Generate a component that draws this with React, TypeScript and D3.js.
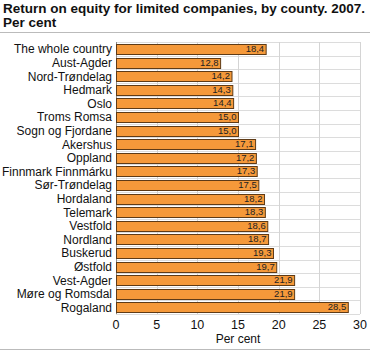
import React from 'react';
import * as d3 from 'd3';

const counties = [
  'The whole country', 'Aust-Agder', 'Nord-Trøndelag', 'Hedmark', 'Oslo',
  'Troms Romsa', 'Sogn og Fjordane', 'Akershus', 'Oppland', 'Finnmark Finnmárku',
  'Sør-Trøndelag', 'Hordaland', 'Telemark', 'Vestfold', 'Nordland',
  'Buskerud', 'Østfold', 'Vest-Agder', 'Møre og Romsdal', 'Rogaland',
];
const values = [
  18.4, 12.8, 14.2, 14.3, 14.4, 15.0, 15.0, 17.1, 17.2, 17.3,
  17.5, 18.2, 18.3, 18.6, 18.7, 19.3, 19.7, 21.9, 21.9, 28.5,
];
const xTicks = [0, 5, 10, 15, 20, 25, 30];

const W = 370;
const H = 354;
const FONT = 'Liberation Sans, Arial, sans-serif';

export default function App() {
  const left = 116;
  const right = 360;
  const top = 42;
  const bottom = 314;

  const x = d3.scaleLinear().domain([0, 30]).range([left, right]);
  const y = d3.scaleBand().domain(counties).range([top, bottom]).paddingInner(0.28).paddingOuter(0.14);
  const rowStep = (bottom - top) / counties.length;
  const fmt = (v: number) => v.toFixed(1).replace('.', ',');

  return (
    <svg width={W} height={H} style={{ position: 'absolute', left: 0, top: 0 }} fontFamily={FONT}>
      <rect width={W} height={H} fill="#fff" />
      <text x={3} y={13} fontSize={13.5} fontWeight="bold" fill="#111">
        Return on equity for limited companies, by county. 2007.
      </text>
      <text x={3} y={27} fontSize={13.5} fontWeight="bold" fill="#111">Per cent</text>
      <line x1={0} x2={W} y1={32.5} y2={32.5} stroke="#bbb" strokeWidth={1} />

      {/* horizontal row grid */}
      {d3.range(counties.length + 1).map(i => (
        <line key={'h' + i} x1={left} x2={right} y1={Math.round(top + i * rowStep) + 0.5}
          y2={Math.round(top + i * rowStep) + 0.5} stroke="#dcdcdc" />
      ))}
      {/* vertical grid */}
      {xTicks.map(t => (
        <line key={'v' + t} x1={Math.round(x(t)) + 0.5} x2={Math.round(x(t)) + 0.5} y1={top} y2={bottom}
          stroke={t === 0 ? '#888' : '#d4d4d4'} />
      ))}

      {counties.map((c, i) => (
        <g key={c}>
          <rect x={x(0) + 0.5} y={Math.round(y(c)!) + 0.5} width={x(values[i]) - x(0)} height={Math.round(y.bandwidth())}
            fill="#f5993a" stroke="#5e3b17" strokeWidth={1} />
          <text x={x(values[i]) - 1.5} y={Math.round(y(c)!) + y.bandwidth() / 2 + 3.5} fontSize={9.5}
            textAnchor="end" fill="#222">{fmt(values[i])}</text>
          <text x={left - 4} y={y(c)! + y.bandwidth() / 2 + 4.5} fontSize={12} textAnchor="end" fill="#111">{c}</text>
        </g>
      ))}

      {xTicks.map(t => (
        <text key={'t' + t} x={x(t)} y={329} fontSize={12.5} textAnchor="middle" fill="#111">{t}</text>
      ))}
      <text x={x(15)} y={343} fontSize={12} textAnchor="middle" fill="#111">Per cent</text>
      <line x1={0} x2={W} y1={349.5} y2={349.5} stroke="#bbb" strokeWidth={1} />
    </svg>
  );
}
